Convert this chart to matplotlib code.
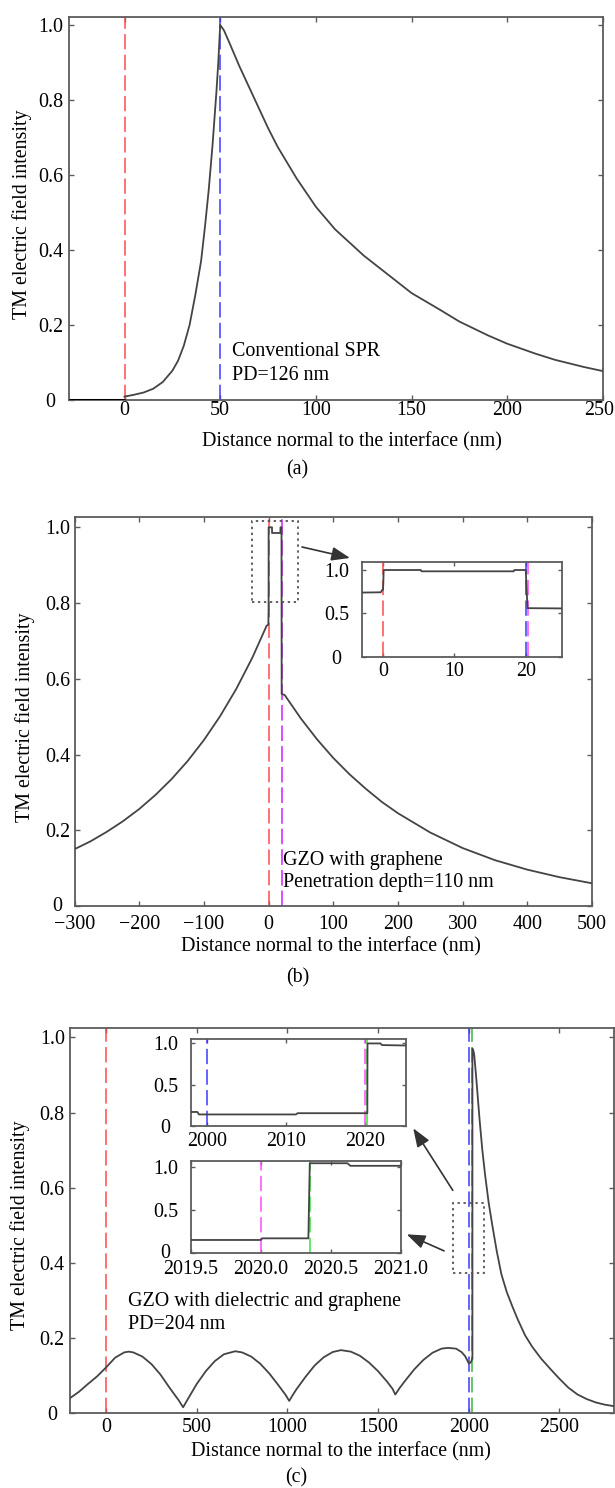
import matplotlib
matplotlib.use('Agg')
import matplotlib.pyplot as plt
from matplotlib.patches import Rectangle
from matplotlib.transforms import ScaledTranslation

plt.rcParams['font.family'] = ['Liberation Serif', 'DejaVu Serif']

# ---------------- data ----------------
# Panel (a): conventional SPR
a_sub_x = [-29, 0]
a_sub_y = [0.0, 0.0]
a_x = [0, 5, 10, 15, 20, 25, 28, 31, 34, 37, 40, 42, 44, 46, 48, 49, 50, 52, 55, 60,
       65, 70, 75, 80, 90, 100, 110, 125, 140, 150, 165, 175, 190, 200, 215, 225, 240, 250]
a_y = [0.009, 0.014, 0.020, 0.030, 0.048, 0.078, 0.105, 0.145, 0.200, 0.280, 0.370, 0.460,
       0.560, 0.680, 0.820, 0.900, 1.000, 0.985, 0.950, 0.890, 0.835, 0.780, 0.725, 0.675,
       0.590, 0.515, 0.455, 0.385, 0.325, 0.285, 0.240, 0.209, 0.172, 0.150, 0.123, 0.107,
       0.088, 0.077]
a_vlines = [0, 50]
a_vcolors = ['#ff4a4a', '#3a3aff']

# Panel (b): GZO with graphene
b_x = [-300, -275, -250, -225, -200, -175, -150, -125, -100, -75, -50, -25, -3, -0.3, -0.1,
       0, 0.05, 0.1, 5.3, 5.4, 18.3, 18.4, 20.0, 20.1, 20.25, 25, 50, 75, 100, 125, 150, 175,
       200, 250, 300, 350, 400, 450, 500]
b_y = [0.150, 0.171, 0.196, 0.224, 0.256, 0.293, 0.335, 0.383, 0.438, 0.501, 0.573, 0.656,
       0.740, 0.743, 0.77, 0.77, 0.84, 1.0, 1.0, 0.985, 0.985, 1.0, 1.0, 0.80, 0.56, 0.557,
       0.495, 0.440, 0.391, 0.348, 0.310, 0.275, 0.245, 0.194, 0.153, 0.121, 0.096, 0.076,
       0.060]
b_vlines = [0, 20, 20.35]
b_vcolors = ['#ff4a4a', '#3a3aff', '#ff4cff']

# Panel (c): GZO with dielectric and graphene
c_x = [-200, -150, -100, -50, 0, 50, 100, 125, 150, 200, 250, 300, 350, 400, 425, 450, 500,
       550, 600, 650, 712, 750, 800, 850, 900, 950, 990, 1010, 1030, 1050, 1100, 1150, 1200,
       1250, 1295, 1350, 1400, 1450, 1500, 1550, 1580, 1595, 1620, 1650, 1700, 1750, 1800,
       1850, 1885, 1930, 1960, 1980, 1995, 2000, 2011, 2020, 2020.35, 2020.36, 2025, 2030,
       2040, 2050, 2060, 2075, 2090, 2110, 2130, 2155, 2180, 2210, 2240, 2270, 2310, 2350,
       2400, 2450, 2500, 2550, 2600, 2650, 2700, 2750, 2800]
c_y = [0.040, 0.057, 0.078, 0.098, 0.122, 0.148, 0.162, 0.164, 0.162, 0.151, 0.131, 0.103,
       0.068, 0.035, 0.016, 0.037, 0.078, 0.112, 0.139, 0.157, 0.165, 0.162, 0.151, 0.132,
       0.106, 0.075, 0.049, 0.033, 0.049, 0.064, 0.097, 0.127, 0.149, 0.163, 0.168, 0.164,
       0.153, 0.135, 0.112, 0.084, 0.065, 0.050, 0.068, 0.087, 0.117, 0.142, 0.161, 0.172,
       0.174, 0.172, 0.163, 0.152, 0.138, 0.133, 0.135, 0.145, 0.145, 0.97, 0.965, 0.955,
       0.90, 0.84, 0.78, 0.70, 0.635, 0.56, 0.50, 0.43, 0.37, 0.322, 0.285, 0.250, 0.208,
       0.177, 0.145, 0.118, 0.092, 0.068, 0.050, 0.038, 0.029, 0.023, 0.019]
c1_x = [1998, 1998.8, 1999.0, 2011.3, 2011.5, 2020.34, 2020.36, 2022.0, 2022.2, 2025.2]
c1_y = [0.17, 0.17, 0.14, 0.14, 0.155, 0.155, 1.0, 1.0, 0.98, 0.975]
c2_x = [2019.5, 2020.0, 2020.01, 2020.34, 2020.35, 2020.62, 2020.64, 2021.0]
c2_y = [0.148, 0.148, 0.167, 0.167, 1.04, 1.04, 1.01, 1.01]
c_vlines = [0, 2000, 2020, 2020.35]
c_vcolors = ['#ff4a4a', '#3a3aff', '#ff4cff', '#3de03d']

y_ticks = [0, 0.2, 0.4, 0.6, 0.8, 1.0]
y_tlabels = ['0', '0.2', '0.4', '0.6', '0.8', '1.0']
in_y_ticks = [0, 0.5, 1.0]
in_y_tlabels = ['0', '0.5', '1.0']
a_xticks = [0, 50, 100, 150, 200, 250]
b_xticks = [-300, -200, -100, 0, 100, 200, 300, 400, 500]
bi_xticks = [0, 10, 20]
c_xticks = [0, 500, 1000, 1500, 2000, 2500]
c1_xticks = [2000, 2010, 2020]
c2_xticks = [2019.5, 2020.0, 2020.5, 2021.0]
c2_xtlabels = ['2019.5', '2020.0', '2020.5', '2021.0']

xlabel = 'Distance normal to the interface (nm)'
ylabel = 'TM electric field intensity'

# ---------------- figure ----------------
W, H = 615, 1488
fig = plt.figure(figsize=(W / 100, H / 100), dpi=100)


def px_axes(l, t, r, b):
    return fig.add_axes([l / W, 1 - b / H, (r - l) / W, (b - t) / H])


FS = 14.4
CURVE = '#444444'
SPINE = '#5c5c5c'
DASH = (0, (10, 3.5))


def fmt(v):
    return ('%g' % v).replace('-', '\u2212')


def shift(label, dx, dy):
    label.set_transform(label.get_transform() +
                        ScaledTranslation(dx, dy, fig.dpi_scale_trans))


def style(ax, xt, xtl, yt, ytl, xpad, ypad, tlen, zero_dy=0.0):
    ax.set_xticks(xt)
    ax.set_xticklabels(xtl)
    ax.set_yticks(yt)
    ax.set_yticklabels(ytl)
    ax.tick_params(direction='in', top=True, right=True, length=tlen, width=1.0,
                   color=SPINE, labelsize=FS)
    ax.tick_params(axis='x', pad=xpad)
    ax.tick_params(axis='y', pad=ypad)
    for s in ax.spines.values():
        s.set_color(SPINE)
        s.set_linewidth(1.3)
    shift(ax.get_yticklabels()[0], -0.08, zero_dy)


def vlines(ax, xs, cols):
    for x, c in zip(xs, cols):
        ax.axvline(x, color=c, lw=1.1, ls=DASH, zorder=2)


def labels(ax, xc, yc_x, yl_x, yl_y):
    ax.set_xlabel(xlabel, fontsize=FS)
    ax.set_ylabel(ylabel, fontsize=FS)
    ax.xaxis.label.set_va('center')
    ax.yaxis.label.set_va('center')
    ax.xaxis.set_label_coords(xc, yc_x)
    ax.yaxis.set_label_coords(yl_x, yl_y)


ARROW = dict(arrowstyle='-|>,head_length=0.8,head_width=0.3', color='#333333', lw=1.2,
             mutation_scale=14, shrinkA=0, shrinkB=0)

# ---- Panel (a)
axA = px_axes(69, 17, 603, 400)
vlines(axA, a_vlines, a_vcolors)
axA.plot(a_sub_x, a_sub_y, color='black', lw=2.2, zorder=3, solid_capstyle='butt')
axA.plot(a_x, a_y, color=CURVE, lw=1.3, zorder=3)
axA.set_xlim(-29, 250)
axA.set_ylim(0, 1.021)
style(axA, a_xticks, [fmt(v) for v in a_xticks], y_ticks, y_tlabels, 0.5, 4.3, 3.6)
shift(axA.get_xticklabels()[-1], -0.04, 0)
labels(axA, 0.53, -0.109, -0.088, 0.486)
axA.text(56.3, 0.128, 'Conventional SPR', fontsize=FS, va='center', ha='left')
axA.text(56.3, 0.065, 'PD=126 nm', fontsize=FS, va='center', ha='left')
fig.text(297 / W, 1 - 470 / H, '(a)', fontsize=FS, ha='center', va='center')

# ---- Panel (b)
axB = px_axes(74.5, 516.7, 592, 906)
vlines(axB, b_vlines, b_vcolors)
axB.plot(b_x, b_y, color=CURVE, lw=1.3, zorder=3)
axB.set_xlim(-300, 500)
axB.set_ylim(0, 1.028)
style(axB, b_xticks, [fmt(v) for v in b_xticks], y_ticks, y_tlabels, 6.5, 3.3, 3.6,
      zero_dy=0.02)
labels(axB, 0.495, -0.1045, -0.0947, 0.486)
axB.text(22.3, 0.121, 'GZO with graphene', fontsize=FS, va='center', ha='left')
axB.text(22.3, 0.061, 'Penetration depth=110 nm', fontsize=FS, va='center', ha='left')
axB.add_patch(Rectangle((-26, 0.802), 72, 0.215, fill=False, ec='#555555', lw=1.3,
                        ls=(0, (1.3, 2.0)), zorder=4))
axB.annotate('', xy=(125.9, 0.919), xytext=(51.7, 0.948), annotation_clip=False,
             arrowprops=ARROW, zorder=5)
fig.text(298 / W, 1 - 978 / H, '(b)', fontsize=FS, ha='center', va='center')

insB = px_axes(361.5, 561.7, 561.5, 656.7)
vlines(insB, b_vlines, b_vcolors)
insB.plot(b_x, b_y, color=CURVE, lw=1.3, zorder=3)
insB.set_xlim(-3, 25)
insB.set_ylim(0, 1.096)
style(insB, bi_xticks, [fmt(v) for v in bi_xticks], in_y_ticks, in_y_tlabels, 4.0, 9.0, 2.8)

# ---- Panel (c)
axC = px_axes(69.8, 1028.3, 613.8, 1413.3)
vlines(axC, c_vlines, c_vcolors)
axC.plot(c_x, c_y, color=CURVE, lw=1.3, zorder=3)
axC.set_xlim(-200, 2800)
axC.set_ylim(0, 1.024)
style(axC, c_xticks, [fmt(v) for v in c_xticks], y_ticks, y_tlabels, 3.2, 3.6, 3.6)
labels(axC, 0.499, -0.0997, -0.0923, 0.489)
axC.text(121, 0.297, 'GZO with dielectric and graphene', fontsize=FS, va='center', ha='left')
axC.text(121, 0.235, 'PD=204 nm', fontsize=FS, va='center', ha='left')
axC.add_patch(Rectangle((1912, 0.374), 174, 0.186, fill=False, ec='#555555', lw=1.3,
                        ls=(0, (1.3, 2.0)), zorder=4))
for tail, head in [((1912, 0.593), (1694, 0.758)), ((1864, 0.432), (1658, 0.476))]:
    axC.annotate('', xy=head, xytext=tail, annotation_clip=False, arrowprops=ARROW, zorder=5)
fig.text(296 / W, 1 - 1478 / H, '(c)', fontsize=FS, ha='center', va='center')

insC1 = px_axes(191, 1039.3, 405.7, 1126)
vlines(insC1, c_vlines, c_vcolors)
insC1.plot(c1_x, c1_y, color=CURVE, lw=1.3, zorder=3)
insC1.set_xlim(1998, 2025.2)
insC1.set_ylim(0, 1.05)
style(insC1, c1_xticks, [fmt(v) for v in c1_xticks], in_y_ticks, in_y_tlabels, 4.3, 9.4, 2.8)

insC2 = px_axes(191, 1161, 400.6, 1252.7)
vlines(insC2, c_vlines, c_vcolors)
insC2.plot(c2_x, c2_y, color=CURVE, lw=1.3, zorder=3)
insC2.set_xlim(2019.5, 2021.0)
insC2.set_ylim(0, 1.066)
style(insC2, c2_xticks, c2_xtlabels, in_y_ticks, in_y_tlabels, 5.5, 9.4, 2.8, zero_dy=0.02)

fig.savefig('out.png', dpi=100)
